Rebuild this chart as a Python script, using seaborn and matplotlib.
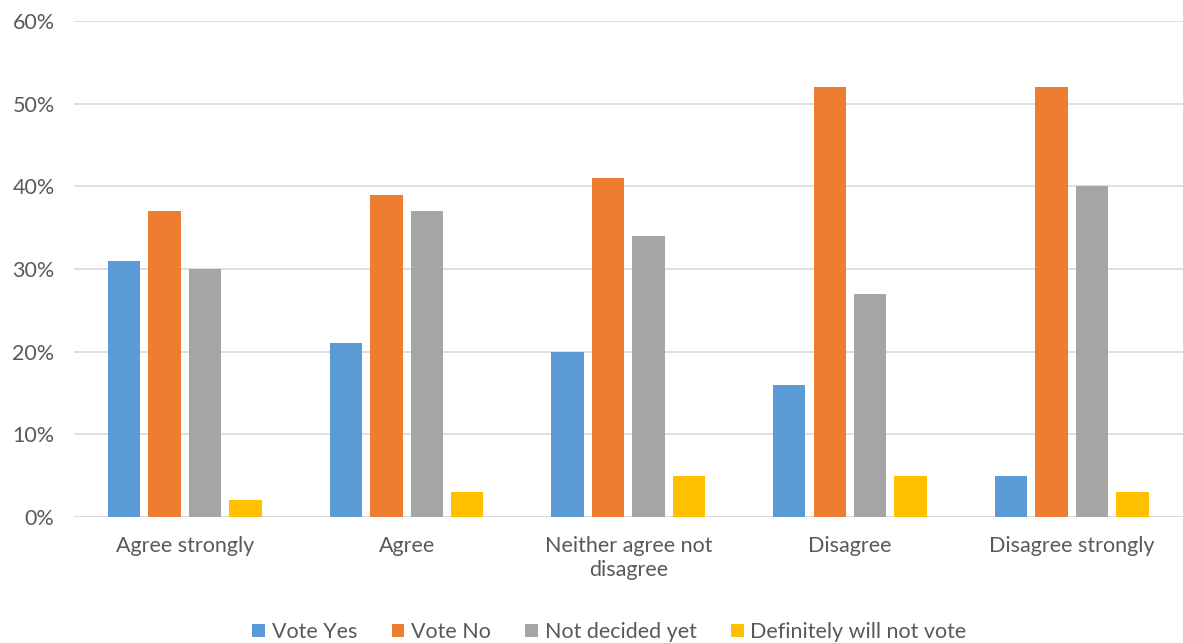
import matplotlib.pyplot as plt
import matplotlib.ticker as mtick
import pandas as pd
import seaborn as sns

categories = ["Agree strongly", "Agree", "Neither agree not\ndisagree", "Disagree", "Disagree strongly"]
series = ["Vote Yes", "Vote No", "Not decided yet", "Definitely will not vote"]
vote_yes = [31, 21, 20, 16, 5]
vote_no = [37, 39, 41, 52, 52]
not_decided = [30, 37, 34, 27, 40]
will_not_vote = [2, 3, 5, 5, 3]
colors = ["#5B9BD5", "#ED7D31", "#A5A5A5", "#FFC000"]

rows = []
for name, vals in zip(series, [vote_yes, vote_no, not_decided, will_not_vote]):
    for cat, v in zip(categories, vals):
        rows.append({"category": cat, "series": name, "value": v / 100})
df = pd.DataFrame(rows)

sns.set_theme(style="white")
plt.rcParams["font.family"] = ["Lato", "DejaVu Sans"]
text_col = "#595959"

fig = plt.figure(figsize=(11.83, 6.43), dpi=100)
ax = fig.add_axes([0.0626, 0.196, 0.937, 0.771])

sns.barplot(data=df, x="category", y="value", hue="series", order=categories,
            hue_order=series, palette=colors, width=0.73, gap=0.2,
            saturation=1, linewidth=0, ax=ax, zorder=3)

ax.set_ylim(0, 0.6)
ax.set_yticks([0, 0.1, 0.2, 0.3, 0.4, 0.5, 0.6])
ax.yaxis.set_major_formatter(mtick.PercentFormatter(1.0, decimals=0))
ax.grid(axis="y", color="#d9d9d9", linewidth=1.2, zorder=0)
ax.set_axisbelow(True)
for s in ax.spines.values():
    s.set_visible(False)
ax.axhline(0, color="#d9d9d9", linewidth=1.2, zorder=1)
ax.set_xlabel("")
ax.set_ylabel("")
ax.tick_params(axis="both", length=0, labelsize=15.5, colors=text_col)
ax.tick_params(axis="x", pad=14)
ax.tick_params(axis="y", pad=14)

handles, labels = ax.get_legend_handles_labels()
ax.legend(handles, labels, loc="center", bbox_to_anchor=(0.483, -0.232),
          ncol=4, frameon=False, fontsize=15.5, labelcolor=text_col,
          handlelength=0.6, handleheight=0.6, handletextpad=0.3, columnspacing=1.6)

fig.savefig("out.png", dpi=100)
